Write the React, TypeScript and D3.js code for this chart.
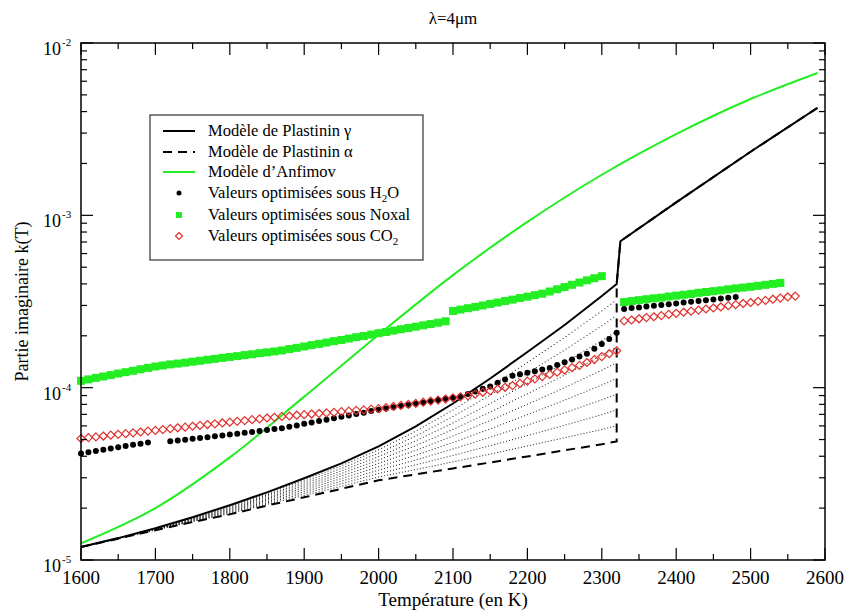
import React, { useMemo } from "react";
import * as d3 from "d3";

// ---------- DATA ----------
const xTickValues = [1600, 1700, 1800, 1900, 2000, 2100, 2200, 2300, 2400, 2500, 2600];
const yDecades = [1e-5, 1e-4, 1e-3, 1e-2];
const yDecadeExp = ["-5", "-4", "-3", "-2"];

// Plastinin gamma (solid)
const gammaT = [1600, 1650, 1700, 1750, 1800, 1850, 1900, 1950, 2000, 2050, 2100, 2150, 2200, 2250, 2300, 2320, 2325, 2400, 2500, 2590];
const gammaK = [1.19e-5, 1.34e-5, 1.53e-5, 1.77e-5, 2.08e-5, 2.47e-5, 2.98e-5, 3.64e-5, 4.56e-5, 5.96e-5, 8.09e-5, 1.13e-4, 1.61e-4, 2.31e-4, 3.4e-4, 3.99e-4, 7.08e-4, 1.19e-3, 2.34e-3, 4.21e-3];

// Plastinin alpha (dashed)
const alphaT = [1600, 1650, 1700, 1750, 1800, 1850, 1900, 1950, 2000, 2050, 2100, 2150, 2200, 2250, 2300, 2320, 2320, 2325, 2400, 2500, 2590];
const alphaK = [1.19e-5, 1.33e-5, 1.49e-5, 1.66e-5, 1.84e-5, 2.07e-5, 2.31e-5, 2.59e-5, 2.9e-5, 3.14e-5, 3.4e-5, 3.68e-5, 3.99e-5, 4.33e-5, 4.69e-5, 4.88e-5, 3.99e-4, 7.08e-4, 1.19e-3, 2.34e-3, 4.21e-3];

// Anfimov (green)
const anfimovT = [1600, 1700, 1800, 1900, 2000, 2100, 2200, 2300, 2400, 2500, 2590];
const anfimovK = [1.25e-5, 2.0e-5, 3.94e-5, 8.87e-5, 2.03e-4, 4.5e-4, 9.16e-4, 1.72e-3, 2.96e-3, 4.73e-3, 6.7e-3];

const STEP = 10;

// H2O (black dots) : segment start temperatures, step 10 K
const h2oStarts = [1600, 1720, 2330];
const h2oK1 = [4.15e-5, 4.22e-5, 4.29e-5, 4.36e-5, 4.43e-5, 4.51e-5, 4.58e-5, 4.66e-5, 4.73e-5, 4.81e-5];
const h2oK2 = [
  4.88e-5, 4.93e-5, 4.99e-5, 5.05e-5, 5.11e-5, 5.16e-5, 5.22e-5, 5.28e-5, 5.35e-5, 5.41e-5,
  5.47e-5, 5.53e-5, 5.6e-5, 5.68e-5, 5.75e-5, 5.82e-5, 5.93e-5, 6.04e-5, 6.17e-5, 6.28e-5,
  6.4e-5, 6.52e-5, 6.65e-5, 6.78e-5, 6.9e-5, 7.03e-5, 7.16e-5, 7.31e-5, 7.45e-5, 7.57e-5,
  7.69e-5, 7.82e-5, 7.94e-5, 8.07e-5, 8.2e-5, 8.34e-5, 8.47e-5, 8.61e-5, 8.75e-5, 8.89e-5,
  9.2e-5, 9.51e-5, 9.84e-5, 1.016e-4, 1.067e-4, 1.117e-4, 1.172e-4, 1.197e-4, 1.222e-4, 1.247e-4,
  1.274e-4, 1.3e-4, 1.352e-4, 1.403e-4, 1.459e-4, 1.514e-4, 1.574e-4, 1.683e-4, 1.795e-4, 1.919e-4,
  2.08e-4,
];
const h2oK3 = [2.86e-4, 2.9e-4, 2.92e-4, 2.96e-4, 2.99e-4, 3.02e-4, 3.05e-4, 3.08e-4, 3.12e-4, 3.15e-4, 3.18e-4, 3.22e-4, 3.25e-4, 3.29e-4, 3.32e-4, 3.36e-4];

// Noxal (green squares)
const noxalStarts = [1600, 2100, 2330];
const noxalK1 = [
  1.096e-4, 1.117e-4, 1.14e-4, 1.161e-4, 1.183e-4, 1.208e-4, 1.23e-4, 1.253e-4, 1.279e-4, 1.303e-4,
  1.327e-4, 1.346e-4, 1.365e-4, 1.38e-4, 1.396e-4, 1.416e-4, 1.432e-4, 1.452e-4, 1.469e-4, 1.489e-4,
  1.507e-4, 1.524e-4, 1.545e-4, 1.563e-4, 1.585e-4, 1.603e-4, 1.622e-4, 1.644e-4, 1.675e-4, 1.702e-4,
  1.734e-4, 1.766e-4, 1.795e-4, 1.828e-4, 1.862e-4, 1.892e-4, 1.928e-4, 1.963e-4, 1.995e-4, 2.032e-4,
  2.07e-4, 2.104e-4, 2.143e-4, 2.183e-4, 2.218e-4, 2.259e-4, 2.301e-4, 2.339e-4, 2.382e-4, 2.427e-4,
];
const noxalK2 = [
  2.786e-4, 2.838e-4, 2.891e-4, 2.944e-4, 2.999e-4, 3.062e-4, 3.119e-4, 3.184e-4, 3.243e-4, 3.311e-4,
  3.373e-4, 3.443e-4, 3.508e-4, 3.614e-4, 3.724e-4, 3.837e-4, 3.954e-4, 4.074e-4, 4.198e-4, 4.315e-4,
  4.436e-4,
];
const noxalK3 = [
  3.14e-4, 3.18e-4, 3.22e-4, 3.26e-4, 3.3e-4, 3.33e-4, 3.38e-4, 3.42e-4, 3.46e-4, 3.5e-4,
  3.55e-4, 3.59e-4, 3.63e-4, 3.67e-4, 3.72e-4, 3.77e-4, 3.81e-4, 3.85e-4, 3.9e-4, 3.95e-4,
  4.0e-4, 4.05e-4,
];

// CO2 (red open diamonds)
const co2Starts = [1600, 2330];
const co2K1 = [
  5.07e-5, 5.13e-5, 5.18e-5, 5.24e-5, 5.3e-5, 5.36e-5, 5.41e-5, 5.47e-5, 5.53e-5, 5.6e-5,
  5.65e-5, 5.71e-5, 5.78e-5, 5.85e-5, 5.9e-5, 5.97e-5, 6.04e-5, 6.11e-5, 6.17e-5, 6.24e-5,
  6.31e-5, 6.38e-5, 6.44e-5, 6.52e-5, 6.59e-5, 6.67e-5, 6.73e-5, 6.81e-5, 6.85e-5, 6.92e-5,
  6.97e-5, 7.03e-5, 7.08e-5, 7.14e-5, 7.19e-5, 7.26e-5, 7.31e-5, 7.38e-5, 7.43e-5, 7.5e-5,
  7.55e-5, 7.66e-5, 7.78e-5, 7.89e-5, 8.0e-5, 8.11e-5, 8.24e-5, 8.36e-5, 8.47e-5, 8.59e-5,
  8.73e-5, 8.85e-5, 8.97e-5, 9.18e-5, 9.4e-5, 9.59e-5, 9.82e-5, 1.005e-4, 1.028e-4, 1.059e-4,
  1.091e-4, 1.125e-4, 1.159e-4, 1.194e-4, 1.23e-4, 1.268e-4, 1.306e-4, 1.346e-4, 1.4e-4, 1.456e-4,
  1.514e-4, 1.574e-4, 1.637e-4,
];
const co2K2 = [
  2.44e-4, 2.47e-4, 2.51e-4, 2.55e-4, 2.58e-4, 2.62e-4, 2.66e-4, 2.7e-4, 2.74e-4, 2.78e-4,
  2.82e-4, 2.86e-4, 2.9e-4, 2.94e-4, 2.99e-4, 3.03e-4, 3.08e-4, 3.12e-4, 3.17e-4, 3.21e-4,
  3.26e-4, 3.31e-4, 3.36e-4, 3.4e-4,
];

const legendLabels = [
  "Modèle de Plastinin γ",
  "Modèle de Plastinin α",
  "Modèle d’Anfimov",
  "Valeurs optimisées sous H",
  "Valeurs optimisées sous Noxal",
  "Valeurs optimisées sous CO",
];

// ---------- LAYOUT ----------
const W = 850;
const H = 612;
const L = 81;
const R = 825;
const TOP = 43;
const BOT = 560;
const SERIF = "'Liberation Serif', 'Times New Roman', serif";
const GREEN = "#22ee22";
const RED = "#e0302c";

function toPoints(starts: number[], segs: number[][]) {
  const pts: [number, number][] = [];
  segs.forEach((seg, s) => seg.forEach((k, i) => pts.push([starts[s] + i * STEP, k])));
  return pts;
}

export default function App() {
  const x = d3.scaleLinear().domain([1600, 2600]).range([L, R]);
  const y = d3.scaleLog().domain([1e-5, 1e-2]).range([BOT, TOP]);

  const line = d3
    .line<[number, number]>()
    .x((d) => x(d[0]))
    .y((d) => y(d[1]));
  const smooth = d3
    .line<[number, number]>()
    .x((d) => x(d[0]))
    .y((d) => y(d[1]))
    .curve(d3.curveMonotoneX);

  const gammaPts = gammaT.map((t, i) => [t, gammaK[i]] as [number, number]);
  const alphaPts = alphaT.map((t, i) => [t, alphaK[i]] as [number, number]);
  const anfPts = anfimovT.map((t, i) => [t, anfimovK[i]] as [number, number]);

  const h2o = toPoints(h2oStarts, [h2oK1, h2oK2, h2oK3]);
  const noxal = toPoints(noxalStarts, [noxalK1, noxalK2, noxalK3]);
  const co2 = toPoints(co2Starts, [co2K1, co2K2]);

  // hatch between alpha and gamma (visual fill, dotted intermediate curves)
  const hatch = useMemo(() => {
    const n = 16;
    const la = d3.scaleLinear().domain(alphaT.slice(0, n)).range(alphaK.slice(0, n).map(Math.log10));
    const lg = d3.scaleLinear().domain(gammaT.slice(0, n)).range(gammaK.slice(0, n).map(Math.log10));
    const dots: [number, number][] = [];
    for (let t = 1604; t <= 2318; t += 4) {
      const a = la(t);
      const g = lg(t);
      for (let f = 1; f < 10; f++) {
        dots.push([x(t), y(Math.pow(10, a + (g - a) * (f / 10)))]);
      }
    }
    return dots;
  }, []);

  const xMinor = d3.range(1650, 2600, 100);
  const yMinor: number[] = [];
  [1e-5, 1e-4, 1e-3].forEach((d) => {
    for (let m = 2; m <= 9; m++) yMinor.push(d * m);
  });

  const legendRows = [131, 152, 172, 193, 215, 236];
  const lx0 = 163;
  const lx1 = 195;
  const lmx = 179;
  const ltx = 208;

  return (
    <svg
      width={W}
      height={H}
      style={{ position: "absolute", left: 0, top: 0, background: "#fff" }}
      fontFamily={SERIF}
    >
      <rect x={0} y={0} width={W} height={H} fill="#fff" />

      {/* hatch */}
      <g fill="#222">
        {hatch.map((d, i) => (
          <rect key={i} x={d[0] - 0.5} y={d[1] - 0.5} width={1} height={1} />
        ))}
      </g>

      {/* models */}
      <path d={line(alphaPts) || ""} fill="none" stroke="#000" strokeWidth={2} strokeDasharray="9,6" />
      <path d={line(gammaPts) || ""} fill="none" stroke="#000" strokeWidth={2} />
      <path d={smooth(anfPts) || ""} fill="none" stroke={GREEN} strokeWidth={2} />

      {/* Noxal squares */}
      <g fill={GREEN}>
        {noxal.map((d, i) => (
          <rect key={i} x={x(d[0]) - 4} y={y(d[1]) - 4} width={8} height={8} />
        ))}
      </g>
      {/* H2O dots */}
      <g fill="#000">
        {h2o.map((d, i) => (
          <circle key={i} cx={x(d[0])} cy={y(d[1])} r={3} />
        ))}
      </g>
      {/* CO2 diamonds */}
      <g fill="none" stroke={RED} strokeWidth={1.2}>
        {co2.map((d, i) => {
          const cx = x(d[0]);
          const cy = y(d[1]);
          return <path key={i} d={`M${cx},${cy - 4}L${cx + 4},${cy}L${cx},${cy + 4}L${cx - 4},${cy}Z`} />;
        })}
      </g>

      {/* frame */}
      <rect x={L} y={TOP} width={R - L} height={BOT - TOP} fill="none" stroke="#000" strokeWidth={1.5} />

      {/* ticks */}
      <g stroke="#000" strokeWidth={1.2}>
        {xTickValues.map((t) => (
          <g key={t}>
            <line x1={x(t)} x2={x(t)} y1={BOT} y2={BOT - 12} />
            <line x1={x(t)} x2={x(t)} y1={TOP} y2={TOP + 12} />
          </g>
        ))}
        {xMinor.map((t) => (
          <g key={t}>
            <line x1={x(t)} x2={x(t)} y1={BOT} y2={BOT - 6} />
            <line x1={x(t)} x2={x(t)} y1={TOP} y2={TOP + 6} />
          </g>
        ))}
        {yDecades.map((v) => (
          <g key={v}>
            <line x1={L} x2={L + 12} y1={y(v)} y2={y(v)} />
            <line x1={R} x2={R - 12} y1={y(v)} y2={y(v)} />
          </g>
        ))}
        {yMinor.map((v) => (
          <g key={v}>
            <line x1={L} x2={L + 6} y1={y(v)} y2={y(v)} />
            <line x1={R} x2={R - 6} y1={y(v)} y2={y(v)} />
          </g>
        ))}
      </g>

      {/* x tick labels */}
      <g fontSize={19} textAnchor="middle" fill="#000">
        {xTickValues.map((t) => (
          <text key={t} x={x(t)} y={584}>
            {t}
          </text>
        ))}
      </g>
      {/* y tick labels */}
      <g fill="#000">
        {yDecades.map((v, i) => (
          <g key={v}>
            <text x={61} y={y(v) + 12} fontSize={18} textAnchor="end">
              10
            </text>
            <text x={62} y={y(v) + 3} fontSize={11}>
              {yDecadeExp[i]}
            </text>
          </g>
        ))}
      </g>

      {/* axis titles */}
      <text x={(L + R) / 2} y={606} fontSize={19} textAnchor="middle" fill="#000">
        Température (en K)
      </text>
      <text
        transform={`translate(28,${(TOP + BOT) / 2}) rotate(-90)`}
        fontSize={18}
        textAnchor="middle"
        fill="#000"
      >
        Partie imaginaire k(T)
      </text>
      <text x={(L + R) / 2} y={24} fontSize={17} textAnchor="middle" fill="#000">
        λ=4μm
      </text>

      {/* legend */}
      <g>
        <rect x={150} y={115} width={273} height={145} fill="#fff" stroke="#333" strokeWidth={1.2} />
        <line x1={lx0} x2={lx1} y1={legendRows[0]} y2={legendRows[0]} stroke="#000" strokeWidth={2} />
        <line x1={lx0} x2={lx1} y1={legendRows[1]} y2={legendRows[1]} stroke="#000" strokeWidth={2} strokeDasharray="9,6" />
        <line x1={lx0} x2={lx1} y1={legendRows[2]} y2={legendRows[2]} stroke={GREEN} strokeWidth={2} />
        <circle cx={lmx} cy={legendRows[3]} r={2.5} fill="#000" />
        <rect x={lmx - 3} y={legendRows[4] - 3} width={6} height={6} fill={GREEN} />
        <path
          d={`M${lmx},${legendRows[5] - 3.5}L${lmx + 3.5},${legendRows[5]}L${lmx},${legendRows[5] + 3.5}L${lmx - 3.5},${legendRows[5]}Z`}
          fill="none"
          stroke={RED}
          strokeWidth={1.2}
        />
        <g fontSize={16.5} fill="#000">
          <text x={ltx} y={legendRows[0] + 5}>{legendLabels[0]}</text>
          <text x={ltx} y={legendRows[1] + 5}>{legendLabels[1]}</text>
          <text x={ltx} y={legendRows[2] + 5}>{legendLabels[2]}</text>
          <text x={ltx} y={legendRows[3] + 5}>
            {legendLabels[3]}
            <tspan fontSize={11} dy={4}>2</tspan>
            <tspan dy={-4}>O</tspan>
          </text>
          <text x={ltx} y={legendRows[4] + 5}>{legendLabels[4]}</text>
          <text x={ltx} y={legendRows[5] + 5}>
            {legendLabels[5]}
            <tspan fontSize={11} dy={4}>2</tspan>
          </text>
        </g>
      </g>
    </svg>
  );
}
